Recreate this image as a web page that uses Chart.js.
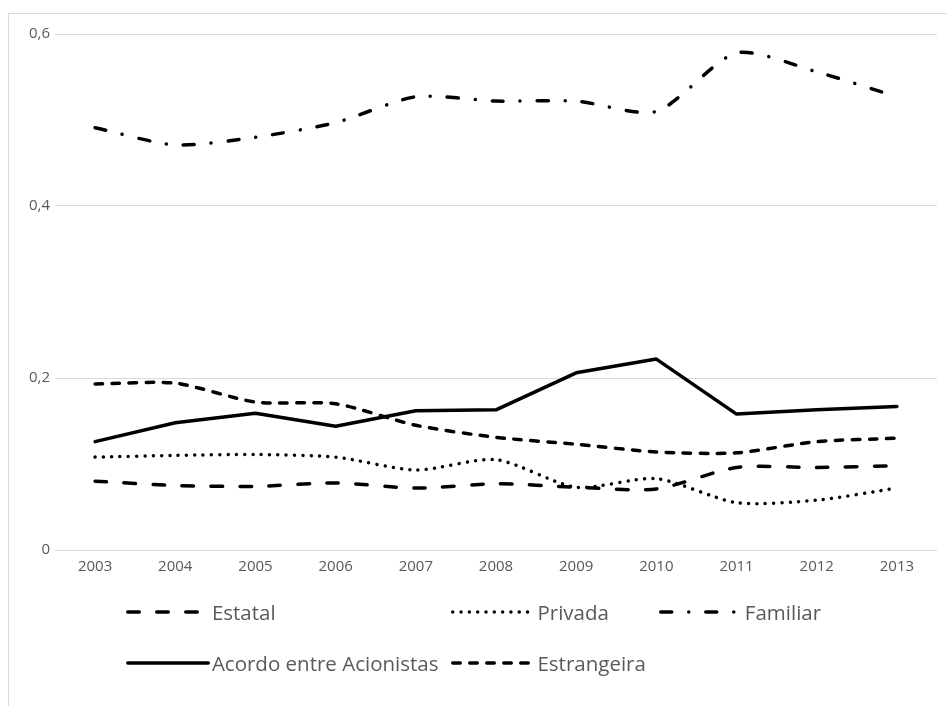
<!DOCTYPE html>
<html>
<head>
<meta charset="utf-8">
<script src="https://cdn.jsdelivr.net/npm/chart.js@4/dist/chart.umd.min.js"></script>
<style>
  html, body { margin: 0; padding: 0; background: #fff; overflow: hidden; }
  #wrap { position: relative; width: 947px; height: 706px; }
  #frame { position: absolute; left: 8px; top: 13px; width: 1000px; height: 800px;
           border: 1px solid #d9d9d9; box-sizing: border-box; }
  canvas { position: absolute; left: 0; top: 0; }
  #legend { position: absolute; top: 596px; left: 0; width: 947px; display: flex; justify-content: center; }
  #legend .grid { display: grid; grid-template-columns: auto auto auto; column-gap: 13px; row-gap: 19px; }
  #legend .item { display: flex; align-items: center; height: 32px;
                  font-family: "Open Sans", sans-serif; font-size: 20.5px; color: #595959; white-space: nowrap; }
  #legend svg { display: block; margin-right: 2px; }
</style>
</head>
<body>
<div id="wrap">
  <div id="frame"></div>
  <canvas id="c" width="947" height="706"></canvas>
  <div id="legend"><div class="grid"></div></div>
</div>
<script>
const years = ["2003","2004","2005","2006","2007","2008","2009","2010","2011","2012","2013"];
const estatal     = [0.080, 0.075, 0.074, 0.078, 0.072, 0.077, 0.073, 0.071, 0.096, 0.096, 0.098];
const privada     = [0.108, 0.110, 0.111, 0.108, 0.093, 0.105, 0.073, 0.083, 0.055, 0.058, 0.072];
const familiar    = [0.491, 0.471, 0.480, 0.497, 0.527, 0.522, 0.522, 0.510, 0.578, 0.556, 0.527];
const acordo      = [0.126, 0.148, 0.159, 0.144, 0.162, 0.163, 0.206, 0.222, 0.158, 0.163, 0.167];
const estrangeira = [0.193, 0.194, 0.172, 0.170, 0.145, 0.131, 0.123, 0.114, 0.113, 0.126, 0.130];
const seriesNames = ["Estatal", "Privada", "Familiar", "Acordo entre Acionistas", "Estrangeira"];
const yTicks = [0, 0.2, 0.4, 0.6];

const LW = 3.5;
function ds(label, data, dash, tension) {
  return { label, data, borderColor: "#000000", backgroundColor: "#000000", borderWidth: LW,
           borderDash: dash, borderCapStyle: "round", borderJoinStyle: "round",
           pointRadius: 0, pointHoverRadius: 0, tension: tension, fill: false };
}

const chart = new Chart(document.getElementById("c"), {
  type: "line",
  data: {
    labels: years,
    datasets: [
      ds(seriesNames[0], estatal, [11.5, 17.5], 0.25),
      ds(seriesNames[1], privada, [0.01, 8.3], 0.25),
      ds(seriesNames[2], familiar, [11, 17, 0.01, 17], 0.25),
      ds(seriesNames[3], acordo, [], 0),
      ds(seriesNames[4], estrangeira, [7.5, 9.5], 0.25)
    ]
  },
  options: {
    responsive: false,
    animation: false,
    layout: { padding: { left: 0, right: 10, top: 34, bottom: 126 } },
    plugins: { legend: { display: false }, tooltip: { enabled: false } },
    scales: {
      x: {
        type: "category",
        offset: true,
        grid: { display: false, drawTicks: false },
        border: { display: false },
        ticks: { color: "#595959", font: { family: "Open Sans", size: 15 }, padding: 8, maxRotation: 0 },
        afterFit: s => { s.height = 30; }
      },
      y: {
        min: 0, max: 0.6,
        afterBuildTicks: s => { s.ticks = yTicks.map(v => ({ value: v })); },
        grid: { color: "#d9d9d9", lineWidth: 1, drawTicks: false },
        border: { display: false },
        ticks: {
          color: "#595959", font: { family: "Open Sans", size: 15 }, padding: 5,
          callback: v => v === 0 ? "0" : v.toFixed(1).replace(".", ",")
        },
        afterFit: s => { s.width = 55; }
      }
    }
  }
});

// HTML legend built from the chart's datasets
const grid = document.querySelector("#legend .grid");
const SW = 84;
chart.data.datasets.forEach(d => {
  const item = document.createElement("div");
  item.className = "item";
  const svgNS = "http://www.w3.org/2000/svg";
  const svg = document.createElementNS(svgNS, "svg");
  svg.setAttribute("width", SW); svg.setAttribute("height", 10);
  const ln = document.createElementNS(svgNS, "line");
  ln.setAttribute("x1", LW / 2); ln.setAttribute("x2", SW - LW / 2);
  ln.setAttribute("y1", 5); ln.setAttribute("y2", 5);
  ln.setAttribute("stroke", d.borderColor);
  ln.setAttribute("stroke-width", LW);
  ln.setAttribute("stroke-linecap", "round");
  if (d.borderDash && d.borderDash.length) ln.setAttribute("stroke-dasharray", d.borderDash.join(" "));
  svg.appendChild(ln);
  const t = document.createElement("span");
  t.textContent = d.label;
  item.appendChild(svg); item.appendChild(t);
  grid.appendChild(item);
});
</script>
</body>
</html>
